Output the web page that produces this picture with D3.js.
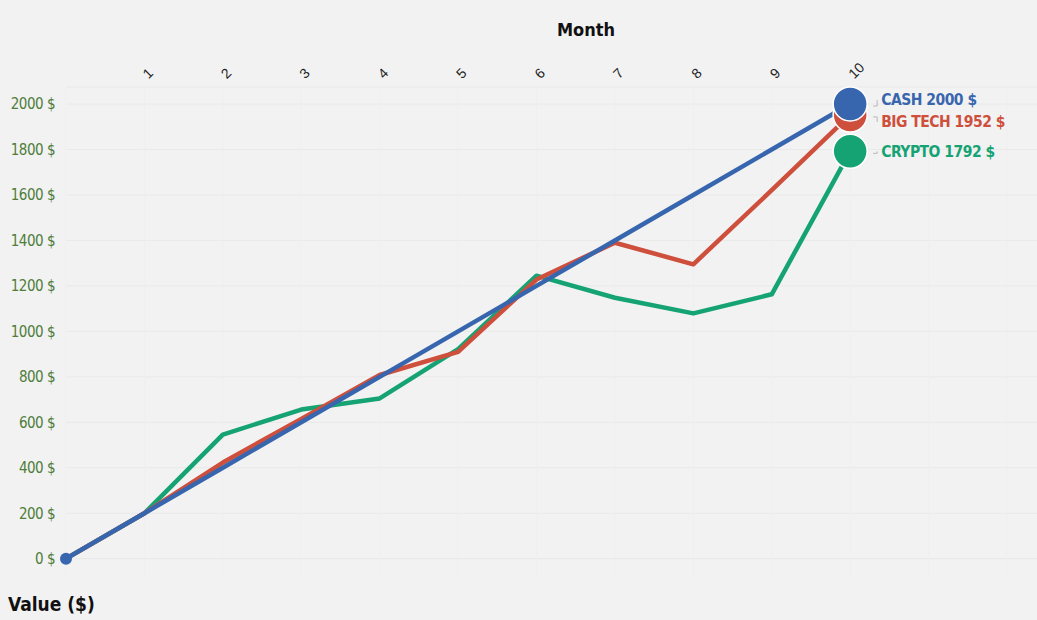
<!DOCTYPE html>
<html>
<head>
<meta charset="utf-8">
<script src="https://cdn.jsdelivr.net/npm/d3@7"></script>
<style>
  body { margin: 0; background: #f2f2f2; }
  svg { display: block; font-family: "DejaVu Sans Condensed", "Liberation Sans Narrow", "Roboto", sans-serif; }
</style>
</head>
<body>
<div id="chart"></div>
<script>
const width = 1037
const height = 620

// data
const months = [0, 1, 2, 3, 4, 5, 6, 7, 8, 9, 10]
const monthTicks = [1, 2, 3, 4, 5, 6, 7, 8, 9, 10]
const valueTicks = [0, 200, 400, 600, 800, 1000, 1200, 1400, 1600, 1800, 2000]
const seriesNames = ["CRYPTO", "BIG TECH", "CASH"]
const cryptoValues = [0, 200, 546, 656, 705, 922, 1245, 1148, 1079, 1163, 1792]
const bigTechValues = [0, 200, 423, 615, 808, 910, 1228, 1390, 1295, 1621, 1952]
const cashValues = [0, 200, 400, 600, 800, 1000, 1200, 1400, 1600, 1800, 2000]
const seriesColors = ["#15a374", "#cd4f3c", "#3866ae"]
const labelOffsets = [0, 7, -4]   // nudge so end labels don't overlap

const seriesValues = [cryptoValues, bigTechValues, cashValues]
const series = seriesNames.map((name, i) => ({
    name: name,
    color: seriesColors[i],
    values: seriesValues[i].map((v, j) => ({ month: months[j], value: v }))
}))

const svg = d3.select("div#chart").append("svg").attr("width", width).attr("height", height)

svg.append("rect").attr("width", width).attr("height", height).attr("fill", "#f2f2f2")

const x = d3.scaleLinear().domain([0, 12]).range([66, 1007])
const y = d3.scaleLinear().domain([-85, 2075]).range([578, 87])

// grid
const gridGroup = svg.append("g").attr("class", "gridGroup")
gridGroup.selectAll("line.h").data(valueTicks.concat([2075]))
    .enter().append("line")
    .attr("class", "h")
    .attr("x1", x(0)).attr("x2", width)
    .attr("y1", d => y(d)).attr("y2", d => y(d))
    .attr("stroke", "#e9e9e9").attr("stroke-width", 1)
gridGroup.selectAll("line.v").data(d3.range(0, 13))
    .enter().append("line")
    .attr("class", "v")
    .attr("x1", d => x(d)).attr("x2", d => x(d))
    .attr("y1", y(2075)).attr("y2", y(-85))
    .attr("stroke", "#efefef").attr("stroke-width", 1)

// axes
const yAxis = d3.axisLeft(y).tickValues(valueTicks).tickSize(0).tickPadding(0)
    .tickFormat(d => d + " $")
const yAxisGroup = svg.append("g").attr("class", "yAxisGroup")
    .attr("transform", `translate(${55}, 0)`)
    .call(yAxis)
yAxisGroup.select(".domain").remove()
yAxisGroup.selectAll("text")
    .attr("fill", "#4f7d3a")
    .attr("font-size", 15)
    .attr("letter-spacing", -0.5)
    .attr("font-family", "DejaVu Sans Condensed, sans-serif")

const xAxis = d3.axisTop(x).tickValues(monthTicks).tickSize(0).tickPadding(0)
const xAxisGroup = svg.append("g").attr("class", "xAxisGroup")
    .attr("transform", `translate(0, ${76})`)
    .call(xAxis)
xAxisGroup.select(".domain").remove()
xAxisGroup.selectAll("text")
    .attr("fill", "#222")
    .attr("font-size", 14)
    .attr("text-anchor", "start")
    .attr("dy", "0.35em")
    .attr("transform", "rotate(-45)")

svg.append("text")
    .attr("x", 586).attr("y", 36)
    .attr("text-anchor", "middle")
    .attr("font-size", 18).attr("font-weight", "bold")
    .attr("fill", "#111")
    .text("Month")

svg.append("text")
    .attr("x", 8).attr("y", 611)
    .attr("font-size", 19).attr("font-weight", "bold")
    .attr("fill", "#111")
    .text("Value ($)")

// lines
const line = d3.line()
    .x(d => x(d.month))
    .y(d => y(d.value))

const lineGroup = svg.append("g").attr("class", "lineGroup")
lineGroup.selectAll("path").data(series)
    .enter().append("path")
    .attr("d", d => line(d.values))
    .attr("fill", "none")
    .attr("stroke", d => d.color)
    .attr("stroke-width", 4.5)
    .attr("stroke-linejoin", "round")

// start dot
svg.append("circle")
    .attr("cx", x(months[0])).attr("cy", y(cashValues[0]))
    .attr("r", 6)
    .attr("fill", seriesColors[2])

// end dots, drawn so cash ends on top
const last = months.length - 1
const endGroup = svg.append("g").attr("class", "endGroup")
endGroup.selectAll("circle").data(series)
    .enter().append("circle")
    .attr("cx", d => x(d.values[last].month))
    .attr("cy", d => y(d.values[last].value))
    .attr("r", 17)
    .attr("fill", d => d.color)
    .attr("stroke", "#ffffff")
    .attr("stroke-width", 1.5)

// end labels
const labelGroup = svg.append("g").attr("class", "labelGroup")
labelGroup.selectAll("text").data(series)
    .enter().append("text")
    .attr("x", x(10) + 31)
    .attr("y", (d, i) => y(d.values[last].value) + labelOffsets[i])
    .attr("dy", "0.35em")
    .attr("font-size", 15.5)
    .attr("font-weight", "bold")
    .attr("letter-spacing", -0.5)
    .attr("fill", d => d.color)
    .text(d => d.name + " " + d.values[last].value + " $")

labelGroup.selectAll("path").data(series)
    .enter().append("path")
    .attr("d", (d, i) => {
        const y0 = y(d.values[last].value)
        const y1 = y0 + labelOffsets[i]
        return `M${x(10) + 23},${y0 + 2} L${x(10) + 27},${y0 + 2} L${x(10) + 27},${y1}`
    })
    .attr("fill", "none")
    .attr("stroke", "#aaa")
    .attr("stroke-width", 0.8)
</script>
</body>
</html>
